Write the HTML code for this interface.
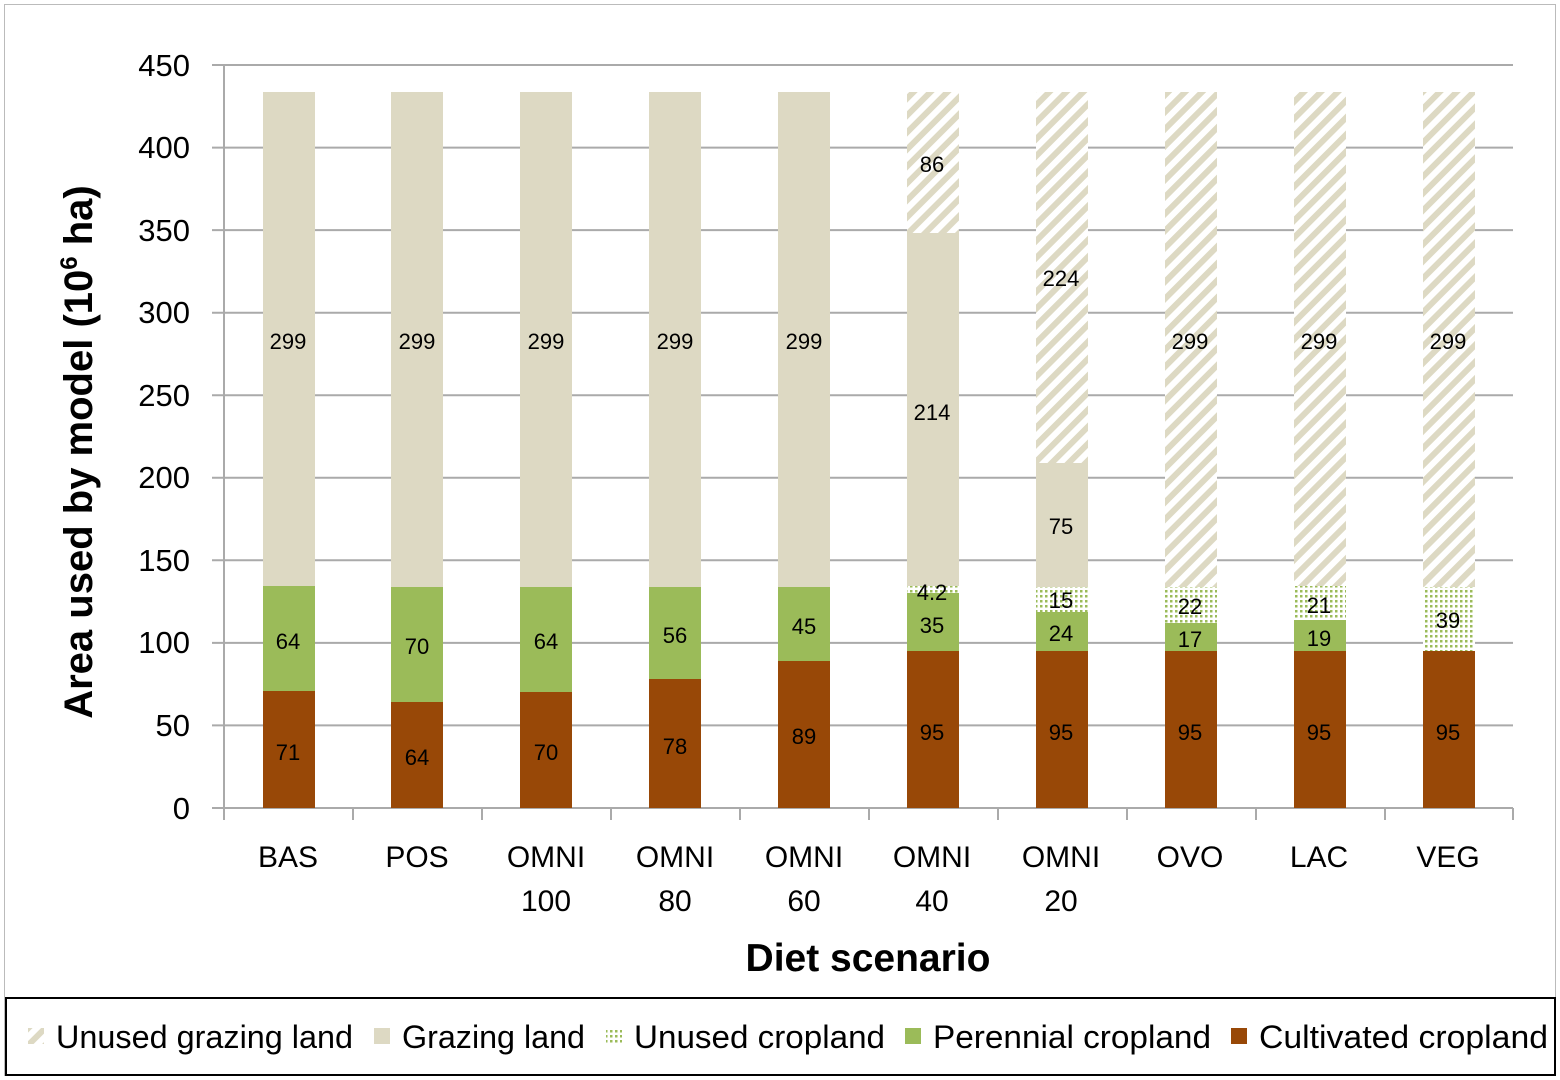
<!DOCTYPE html>
<html><head><meta charset="utf-8"><style>
body{margin:0;background:#fff}
svg{display:block}
text{font-family:"Liberation Sans",sans-serif}
</style></head><body>
<svg width="1560" height="1080" viewBox="0 0 1560 1080" xmlns="http://www.w3.org/2000/svg">
<defs>
<pattern id="hatch" width="12" height="12" patternUnits="userSpaceOnUse" patternTransform="rotate(45)">
<rect width="12" height="12" fill="#fff"/><rect width="6" height="12" fill="#ddd9c3"/>
</pattern>
<pattern id="dots" width="5" height="5" patternUnits="userSpaceOnUse">
<rect width="5" height="5" fill="#fff"/><rect width="2.5" height="2.5" fill="#9bbb59"/>
</pattern>
</defs>
<rect x="4.5" y="4.5" width="1551" height="1071" fill="#fff" stroke="#bbb"/>
<g stroke="#aaa" stroke-width="2">
<line x1="212" y1="65" x2="1513" y2="65"/><line x1="212" y1="147.6" x2="1513" y2="147.6"/>
<line x1="212" y1="230.1" x2="1513" y2="230.1"/><line x1="212" y1="312.7" x2="1513" y2="312.7"/>
<line x1="212" y1="395.2" x2="1513" y2="395.2"/><line x1="212" y1="477.8" x2="1513" y2="477.8"/>
<line x1="212" y1="560.3" x2="1513" y2="560.3"/><line x1="212" y1="642.9" x2="1513" y2="642.9"/>
<line x1="212" y1="725.4" x2="1513" y2="725.4"/><line x1="212" y1="808" x2="1513" y2="808"/>
<line x1="224" y1="65" x2="224" y2="808"/>
<line x1="224" y1="808" x2="224" y2="820"/><line x1="353" y1="808" x2="353" y2="820"/>
<line x1="482" y1="808" x2="482" y2="820"/><line x1="611" y1="808" x2="611" y2="820"/>
<line x1="740" y1="808" x2="740" y2="820"/><line x1="869" y1="808" x2="869" y2="820"/>
<line x1="998" y1="808" x2="998" y2="820"/><line x1="1127" y1="808" x2="1127" y2="820"/>
<line x1="1256" y1="808" x2="1256" y2="820"/><line x1="1385" y1="808" x2="1385" y2="820"/>
<line x1="1513" y1="808" x2="1513" y2="820"/>
</g>
<g font-size="31" text-anchor="end" fill="#000">
<text x="190" y="76">450</text><text x="190" y="158">400</text><text x="190" y="241">350</text>
<text x="190" y="323">300</text><text x="190" y="406">250</text><text x="190" y="488">200</text>
<text x="190" y="571">150</text><text x="190" y="653">100</text><text x="190" y="736">50</text><text x="190" y="819">0</text>
</g>
<rect x="263" y="92" width="52" height="494" fill="#ddd9c3"/>
<rect x="263" y="586" width="52" height="105" fill="#9bbb59"/>
<rect x="263" y="691" width="52" height="117" fill="#984807"/>
<rect x="391" y="92" width="52" height="495" fill="#ddd9c3"/>
<rect x="391" y="587" width="52" height="115" fill="#9bbb59"/>
<rect x="391" y="702" width="52" height="106" fill="#984807"/>
<rect x="520" y="92" width="52" height="495" fill="#ddd9c3"/>
<rect x="520" y="587" width="52" height="105" fill="#9bbb59"/>
<rect x="520" y="692" width="52" height="116" fill="#984807"/>
<rect x="649" y="92" width="52" height="495" fill="#ddd9c3"/>
<rect x="649" y="587" width="52" height="92" fill="#9bbb59"/>
<rect x="649" y="679" width="52" height="129" fill="#984807"/>
<rect x="778" y="92" width="52" height="495" fill="#ddd9c3"/>
<rect x="778" y="587" width="52" height="74" fill="#9bbb59"/>
<rect x="778" y="661" width="52" height="147" fill="#984807"/>
<rect x="907" y="92" width="52" height="141" fill="url(#hatch)"/>
<rect x="907" y="233" width="52" height="353" fill="#ddd9c3"/>
<rect x="907" y="586" width="52" height="7" fill="url(#dots)"/>
<rect x="907" y="593" width="52" height="58" fill="#9bbb59"/>
<rect x="907" y="651" width="52" height="157" fill="#984807"/>
<rect x="1036" y="92" width="52" height="371" fill="url(#hatch)"/>
<rect x="1036" y="463" width="52" height="124" fill="#ddd9c3"/>
<rect x="1036" y="587" width="52" height="25" fill="url(#dots)"/>
<rect x="1036" y="612" width="52" height="39" fill="#9bbb59"/>
<rect x="1036" y="651" width="52" height="157" fill="#984807"/>
<rect x="1165" y="92" width="52" height="495" fill="url(#hatch)"/>
<rect x="1165" y="587" width="52" height="36" fill="url(#dots)"/>
<rect x="1165" y="623" width="52" height="28" fill="#9bbb59"/>
<rect x="1165" y="651" width="52" height="157" fill="#984807"/>
<rect x="1294" y="92" width="52" height="494" fill="url(#hatch)"/>
<rect x="1294" y="586" width="52" height="34" fill="url(#dots)"/>
<rect x="1294" y="620" width="52" height="31" fill="#9bbb59"/>
<rect x="1294" y="651" width="52" height="157" fill="#984807"/>
<rect x="1423" y="92" width="52" height="495" fill="url(#hatch)"/>
<rect x="1423" y="587" width="52" height="64" fill="url(#dots)"/>
<rect x="1423" y="651" width="52" height="157" fill="#984807"/>
<g font-size="22" text-anchor="middle" fill="#000">
<text x="288" y="349">299</text><text x="288" y="649">64</text><text x="288" y="760">71</text>
<text x="417" y="349">299</text><text x="417" y="654">70</text><text x="417" y="765">64</text>
<text x="546" y="349">299</text><text x="546" y="649">64</text><text x="546" y="760">70</text>
<text x="675" y="349">299</text><text x="675" y="643">56</text><text x="675" y="754">78</text>
<text x="804" y="349">299</text><text x="804" y="634">45</text><text x="804" y="744">89</text>
<text x="932" y="172">86</text><text x="932" y="420">214</text><text x="932" y="600">4.2</text><text x="932" y="633">35</text><text x="932" y="740">95</text>
<text x="1061" y="286">224</text><text x="1061" y="534">75</text><text x="1061" y="608">15</text><text x="1061" y="641">24</text><text x="1061" y="740">95</text>
<text x="1190" y="349">299</text><text x="1190" y="614">22</text><text x="1190" y="647">17</text><text x="1190" y="740">95</text>
<text x="1319" y="349">299</text><text x="1319" y="613">21</text><text x="1319" y="646">19</text><text x="1319" y="740">95</text>
<text x="1448" y="349">299</text><text x="1448" y="628">39</text><text x="1448" y="740">95</text>
</g>
<g font-size="30" text-anchor="middle" fill="#000">
<text x="288" y="867">BAS</text><text x="417" y="867">POS</text>
<text x="546" y="867">OMNI</text><text x="546" y="911">100</text>
<text x="675" y="867">OMNI</text><text x="675" y="911">80</text>
<text x="804" y="867">OMNI</text><text x="804" y="911">60</text>
<text x="932" y="867">OMNI</text><text x="932" y="911">40</text>
<text x="1061" y="867">OMNI</text><text x="1061" y="911">20</text>
<text x="1190" y="867">OVO</text><text x="1319" y="867">LAC</text><text x="1448" y="867">VEG</text>
</g>
<text x="868" y="971" font-size="39" font-weight="bold" text-anchor="middle">Diet scenario</text>
<text transform="translate(92,452) rotate(-90)" font-size="40" font-weight="bold" text-anchor="middle">Area used by model (10<tspan font-size="24" dy="-15">6</tspan><tspan dy="15"> ha)</tspan></text>
<rect x="6" y="998" width="1549" height="77" fill="#fff" stroke="#000" stroke-width="2"/>
<g font-size="32" fill="#000">
<rect x="28" y="1028" width="16" height="16" fill="url(#hatch)"/><text x="56" y="1048" textLength="297" lengthAdjust="spacingAndGlyphs">Unused grazing land</text>
<rect x="374" y="1028" width="16" height="16" fill="#ddd9c3"/><text x="402" y="1048" textLength="183" lengthAdjust="spacingAndGlyphs">Grazing land</text>
<rect x="606" y="1028" width="16" height="16" fill="url(#dots)"/><text x="634" y="1048" textLength="251" lengthAdjust="spacingAndGlyphs">Unused cropland</text>
<rect x="905" y="1028" width="16" height="16" fill="#9bbb59"/><text x="933" y="1048" textLength="278" lengthAdjust="spacingAndGlyphs">Perennial cropland</text>
<rect x="1231" y="1028" width="16" height="16" fill="#984807"/><text x="1259" y="1048" textLength="289" lengthAdjust="spacingAndGlyphs">Cultivated cropland</text>
</g>
</svg>
</body></html>
